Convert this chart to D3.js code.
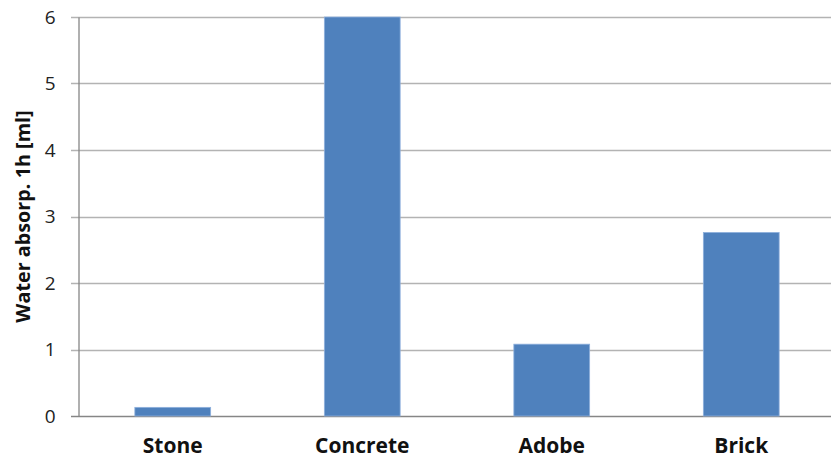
<!DOCTYPE html>
<html>
<head>
<meta charset="utf-8">
<script src="https://cdn.jsdelivr.net/npm/d3@7"></script>
<style>
  body { margin: 0; background: #fff; }
  svg { display: block; }
  svg text { font-family: "Open Sans", "Noto Sans", sans-serif; }
</style>
</head>
<body>
<div id="chart"></div>
<script>
// datos
const materials = ["Stone", "Concrete", "Adobe", "Brick"];
const absorption = [0.13, 6.0, 1.08, 2.76];
const yTicks = [0, 1, 2, 3, 4, 5, 6];
const yTitle = "Water absorp. 1h [ml]";

const width = 831, height = 459;
const margin = { top: 17, right: -5, bottom: 43, left: 78 };

const svg = d3.select("#chart").append("svg")
    .attr("width", width)
    .attr("height", height);

const x = d3.scaleBand()
    .domain(materials)
    .range([margin.left, width - margin.right])
    .paddingInner(0.6)
    .paddingOuter(0.3);

const y = d3.scaleLinear()
    .domain([0, 6])
    .range([height - margin.bottom, margin.top]);

// rejilla
svg.append("g")
    .selectAll("line")
    .data(yTicks)
    .join("line")
    .attr("x1", margin.left - 7)
    .attr("x2", width)
    .attr("y1", d => Math.round(y(d)) + 0.5)
    .attr("y2", d => Math.round(y(d)) + 0.5)
    .attr("stroke", d => d === 0 ? "#868686" : "#b3b3b3")
    .attr("stroke-width", 1.3);

// barras
svg.append("g")
    .selectAll("rect")
    .data(materials)
    .join("rect")
    .attr("x", d => x(d))
    .attr("y", (d, i) => y(absorption[i]))
    .attr("width", x.bandwidth())
    .attr("height", (d, i) => y(0) - y(absorption[i]))
    .attr("fill", "#4f81bd")
    .attr("stroke", "#8eb0dc")
    .attr("stroke-width", 0.8);

// eje Y
const yAxis = svg.append("g")
    .attr("transform", `translate(${margin.left + 0.5},0)`)
    .call(d3.axisLeft(y).tickValues(yTicks).tickFormat(d3.format("d")).tickSize(0).tickPadding(23));
yAxis.attr("font-family", null);
yAxis.select(".domain").attr("stroke", "#868686").attr("stroke-width", 1.3);
yAxis.selectAll("text")
    .attr("font-size", 19)
    .attr("fill", "#222");

// eje X
const xAxis = svg.append("g")
    .attr("transform", `translate(0,${y(0)})`)
    .call(d3.axisBottom(x).tickSize(0).tickPadding(22));
xAxis.attr("font-family", null);
xAxis.select(".domain").remove();
xAxis.selectAll("text")
    .attr("font-size", 21)
    .attr("font-weight", "bold")
    .attr("fill", "#111");

// título eje Y
svg.append("text")
    .attr("transform", `translate(23,${(y(0) + y(6)) / 2}) rotate(-90)`)
    .attr("text-anchor", "middle")
    .attr("dy", "0.35em")
    .attr("font-size", 19.8)
    .attr("font-weight", "bold")
    .attr("fill", "#111")
    .text(yTitle);
</script>
</body>
</html>
